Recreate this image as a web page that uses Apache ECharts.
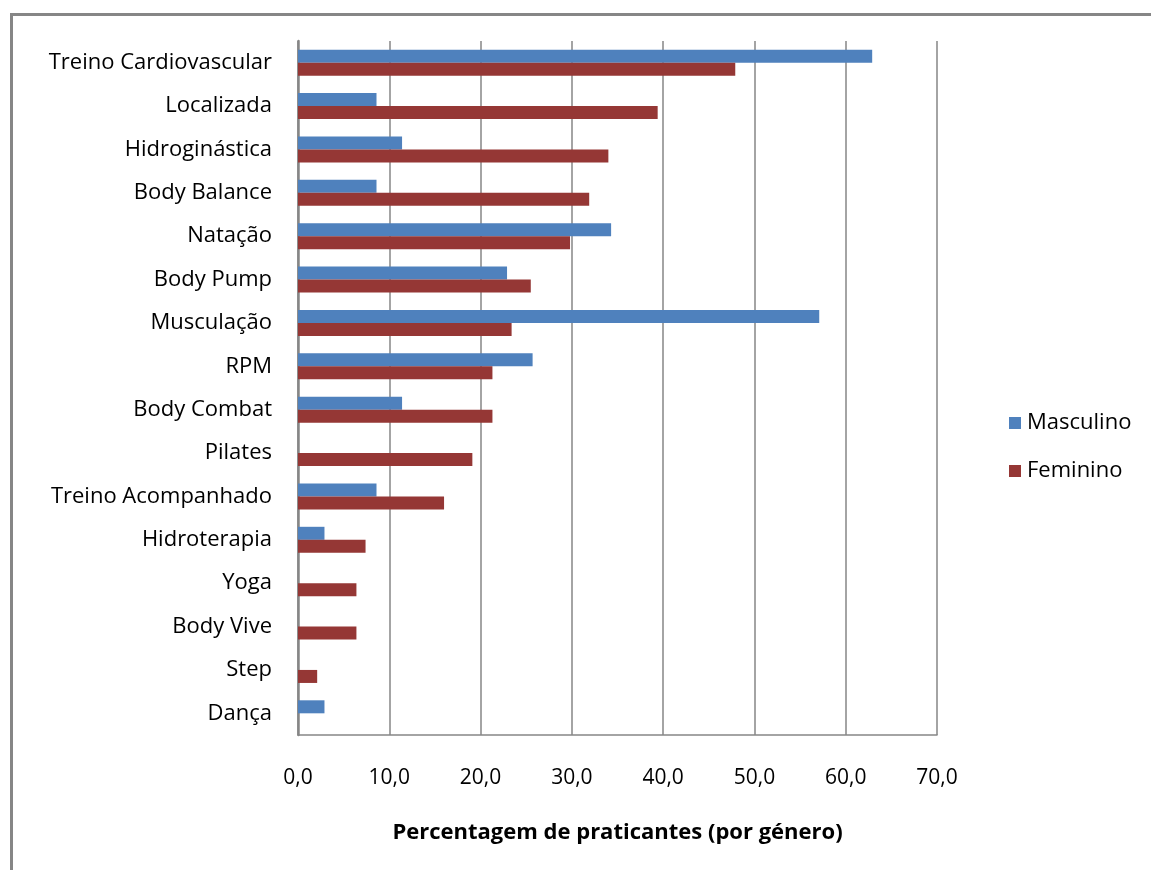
<!DOCTYPE html>
<html>
<head>
<meta charset="utf-8">
<script src="https://cdn.jsdelivr.net/npm/echarts@6/dist/echarts.min.js"></script>
<style>
html,body{margin:0;padding:0;background:#fff;}
#chart{width:1151px;height:870px;}
</style>
</head>
<body>
<div id="chart"></div>
<script>
const categories = ["Treino Cardiovascular","Localizada","Hidroginástica","Body Balance","Natação","Body Pump","Musculação","RPM","Body Combat","Pilates","Treino Acompanhado","Hidroterapia","Yoga","Body Vive","Step","Dança"];
const masculino = [62.9, 8.6, 11.4, 8.6, 34.3, 22.9, 57.1, 25.7, 11.4, 0, 8.6, 2.9, 0, 0, 0, 2.9];
const feminino = [47.9, 39.4, 34.0, 31.9, 29.8, 25.5, 23.4, 21.3, 21.3, 19.1, 16.0, 7.4, 6.4, 6.4, 2.1, 0];
const xTicks = { min: 0, max: 70, interval: 10 };
const seriesNames = ["Masculino", "Feminino"];
const axisTitle = "Percentagem de praticantes (por género)";

const FONT = "'Open Sans', 'Noto Sans', sans-serif";
const chart = echarts.init(document.getElementById('chart'), null, {renderer:'canvas'});
chart.setOption({
  animation: false,
  backgroundColor: '#fff',
  textStyle: { fontFamily: FONT },
  graphic: [{
    type: 'rect', left: 9, top: 12, silent: true,
    shape: { width: 1200, height: 900 },
    style: { fill: 'none', stroke: '#868686', lineWidth: 3 }
  }],
  grid: { left: 298, right: 214, top: 41, bottom: 135, containLabel: false },
  legend: {
    orient: 'vertical', left: 1004, top: 407, itemGap: 26,
    itemWidth: 12, itemHeight: 12, icon: 'rect',
    textStyle: { fontFamily: FONT, fontSize: 22, color: '#000', padding: [0,0,0,1] },
    data: seriesNames
  },
  xAxis: {
    type: 'value', min: xTicks.min, max: xTicks.max, interval: xTicks.interval,
    name: axisTitle, nameLocation: 'middle', nameGap: 87,
    nameTextStyle: { fontFamily: FONT, fontSize: 22, fontWeight: 'bold', color: '#000' },
    axisLine: { show: true, lineStyle: { color: '#868686', width: 1.5 } },
    axisTick: { show: false },
    splitLine: { show: true, lineStyle: { color: '#868686', width: 1.5 } },
    axisLabel: { color: '#000', fontSize: 21, margin: 33, fontFamily: FONT,
      formatter: v => v.toFixed(1).replace('.', ',') }
  },
  yAxis: {
    type: 'category', data: categories, inverse: true,
    axisLine: { show: true, lineStyle: { color: '#868686', width: 2.5 } },
    axisTick: { show: false },
    axisLabel: { color: '#000', fontSize: 22, margin: 26, fontFamily: FONT, padding: [4,0,0,0] }
  },
  series: [
    { name: seriesNames[0], type: 'bar', data: masculino, barGap: '0%', barCategoryGap: '40%',
      itemStyle: { color: '#4F81BD' } },
    { name: seriesNames[1], type: 'bar', data: feminino, barGap: '0%', barCategoryGap: '40%',
      itemStyle: { color: '#953735' } }
  ]
});
</script>
</body>
</html>
